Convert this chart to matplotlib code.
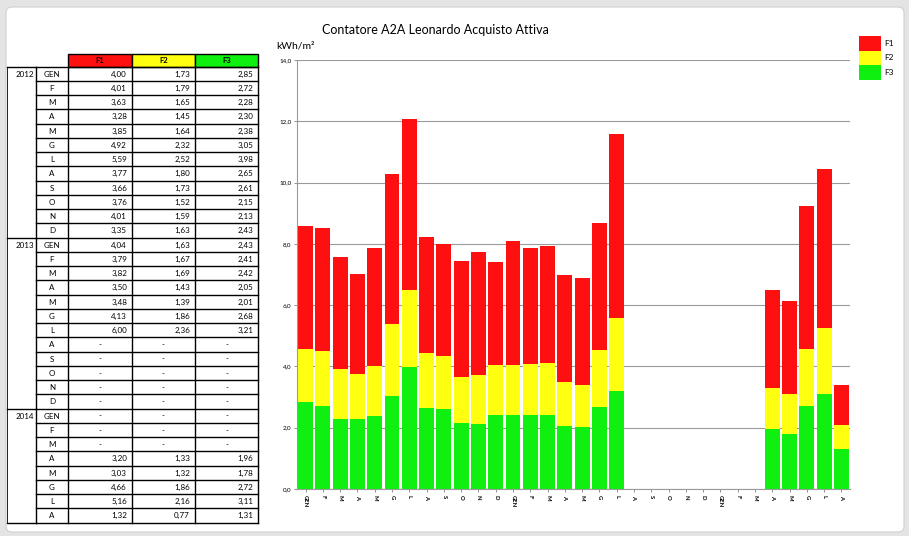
import numpy as np
import matplotlib
matplotlib.use("Agg")
import matplotlib.pyplot as plt
from matplotlib.patches import Rectangle, FancyBboxPatch

plt.rcParams['font.family'] = ['Lato', 'DejaVu Sans']

nan = np.nan
years = ["2012", "2013", "2014"]
months_per_year = [
    ["GEN", "F", "M", "A", "M", "G", "L", "A", "S", "O", "N", "D"],
    ["GEN", "F", "M", "A", "M", "G", "L", "A", "S", "O", "N", "D"],
    ["GEN", "F", "M", "A", "M", "G", "L", "A"],
]
f1 = [4.00, 4.01, 3.63, 3.28, 3.85, 4.92, 5.59, 3.77, 3.66, 3.76, 4.01, 3.35,
      4.04, 3.79, 3.82, 3.50, 3.48, 4.13, 6.00, nan, nan, nan, nan, nan,
      nan, nan, nan, 3.20, 3.03, 4.66, 5.16, 1.32]
f2 = [1.73, 1.79, 1.65, 1.45, 1.64, 2.32, 2.52, 1.80, 1.73, 1.52, 1.59, 1.63,
      1.63, 1.67, 1.69, 1.43, 1.39, 1.86, 2.36, nan, nan, nan, nan, nan,
      nan, nan, nan, 1.33, 1.32, 1.86, 2.16, 0.77]
f3 = [2.85, 2.72, 2.28, 2.30, 2.38, 3.05, 3.98, 2.65, 2.61, 2.15, 2.13, 2.43,
      2.43, 2.41, 2.42, 2.05, 2.01, 2.68, 3.21, nan, nan, nan, nan, nan,
      nan, nan, nan, 1.96, 1.78, 2.72, 3.11, 1.31]
series_names = ["F1", "F2", "F3"]
series_colors = ["#ff1010", "#ffff10", "#10f010"]
yticks = [0, 2, 4, 6, 8, 10, 12, 14]
title = "Contatore A2A Leonardo Acquisto Attiva"
ylabel = "kWh/m²"

W, H = 909, 536
fig = plt.figure(figsize=(W / 100, H / 100), dpi=100)
fig.patch.set_facecolor("#e4e4e4")

# background panel + overlay axes in pixel coordinates
bg = fig.add_axes([0, 0, 1, 1])
bg.set_xlim(0, W)
bg.set_ylim(H, 0)
bg.axis("off")
bg.add_patch(FancyBboxPatch((6, 7), W - 11, H - 11, boxstyle="round,pad=0,rounding_size=6",
                            facecolor="white", edgecolor="#d0d0d0", lw=0.8, zorder=0))

# ---------- table ----------
cols = [7, 36, 68, 132, 195, 258]
hdr_top, hdr_bot = 54, 66.5
row_h = 14.25
lw_t = 1.0
vals = [f1, f2, f3]
fs_t = 5.8
for j in range(3):
    x0, x1 = cols[j + 2], cols[j + 3]
    bg.add_patch(Rectangle((x0, hdr_top), x1 - x0, hdr_bot - hdr_top, facecolor=series_colors[j],
                           edgecolor="black", lw=lw_t, zorder=2))
    bg.text((x0 + x1) / 2, (hdr_top + hdr_bot) / 2 + 0.5, series_names[j], ha="center", va="center",
            fontsize=5.5, fontweight="bold", zorder=3)
labels = [m for ms in months_per_year for m in ms]
n = len(labels)
top = hdr_bot
bottom = top + n * row_h
for i in range(n + 1):
    y = top + i * row_h
    bg.plot([cols[1], cols[5]], [y, y], color="black", lw=lw_t, zorder=3)
start = 0
for yi, ms in enumerate(months_per_year):
    y = top + start * row_h
    bg.plot([cols[0], cols[1]], [y, y], color="black", lw=lw_t, zorder=3)
    bg.text(cols[1] - 2, y + row_h / 2 + 0.5, years[yi], ha="right", va="center", fontsize=fs_t, zorder=3)
    start += len(ms)
bg.plot([cols[0], cols[1]], [bottom, bottom], color="black", lw=lw_t, zorder=3)
for x in cols:
    bg.plot([x, x], [top, bottom], color="black", lw=lw_t if x != cols[0] else 0.6, zorder=3)
for i, lab in enumerate(labels):
    yc = top + (i + 0.5) * row_h + 0.5
    bg.text((cols[1] + cols[2]) / 2, yc, lab, ha="center", va="center", fontsize=fs_t, zorder=3)
    for j in range(3):
        v = vals[j][i]
        if np.isnan(v):
            bg.text((cols[j + 2] + cols[j + 3]) / 2, yc, "-", ha="center", va="center", fontsize=fs_t, zorder=3)
        else:
            bg.text(cols[j + 3] - 5, yc, f"{v:.2f}".replace(".", ","), ha="right", va="center",
                    fontsize=fs_t, zorder=3)

# ---------- bar chart ----------
ax_l, ax_r, ax_t, ax_b = 297, 850, 60, 489
ax = fig.add_axes([ax_l / W, (H - ax_b) / H, (ax_r - ax_l) / W, (ax_b - ax_t) / H])
ax.set_facecolor("none")
x = np.arange(n)
a1, a2, a3 = (np.nan_to_num(np.array(v, dtype=float)) for v in vals)
bw = 0.86
b3 = ax.bar(x, a3, bw, color=series_colors[2], zorder=2)
b2 = ax.bar(x, a2, bw, bottom=a3, color=series_colors[1], zorder=2)
b1 = ax.bar(x, a1, bw, bottom=a3 + a2, color=series_colors[0], zorder=2)
ax.set_xlim(-0.5, n - 0.5)
ax.set_ylim(0, 14)
ax.set_yticks(yticks)
ax.set_yticklabels([f"{t:.1f}".replace(".", ",") for t in yticks], fontsize=4.5)
ax.yaxis.grid(True, color="#9a9a9a", lw=0.8, zorder=0)
ax.set_xticks(x)
ax.set_xticklabels(labels, rotation=270, fontsize=4.2, fontweight="bold")
ax.tick_params(axis="x", length=2, width=0.5, colors="#666666", pad=2, labelcolor="black")
ax.tick_params(axis="y", length=2, width=0.5, colors="#666666", pad=2, labelcolor="black")
for s in ["top", "right"]:
    ax.spines[s].set_visible(False)
for s in ["left", "bottom"]:
    ax.spines[s].set_color("#9a9a9a")
    ax.spines[s].set_linewidth(0.8)

fig.text(435 / W, 1 - 30 / H, title, ha="center", va="center", fontsize=9)
fig.text(276 / W, 1 - 46 / H, ylabel, ha="left", va="center", fontsize=7.5)

leg = fig.legend([b1, b2, b3], series_names, loc="upper left", bbox_to_anchor=(859 / W, 1 - 36 / H),
                 frameon=False, fontsize=6, handlelength=2.6, handleheight=2.3, labelspacing=0.0,
                 handletextpad=0.4, borderpad=0, borderaxespad=0)

fig.savefig("out.png", dpi=100, facecolor=fig.get_facecolor())
